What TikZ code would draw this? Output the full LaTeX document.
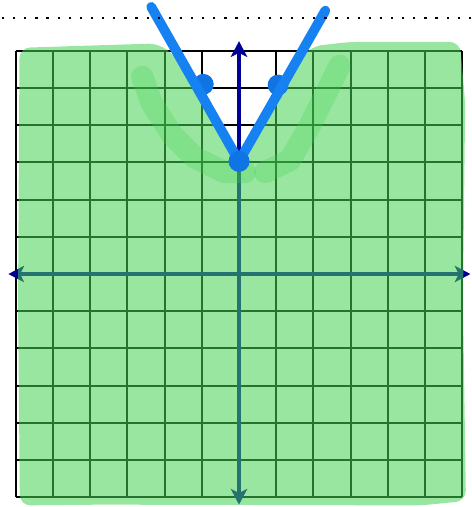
\documentclass[tikz,border=0pt]{standalone}
\usepackage{tikz}
\usetikzlibrary{arrows.meta,positioning}
\definecolor{shgreen}{RGB}{68,210,82}
\definecolor{axnavy}{RGB}{0,0,150}
\definecolor{vblue}{RGB}{22,130,242}
\definecolor{vdotblue}{RGB}{16,116,228}

\begin{document}
\begin{tikzpicture}[>={Stealth[length=12pt,width=12.5pt,inset=3pt]},
  gridline/.style={draw=black,line width=1.5pt},
  axisline/.style={draw=axnavy,line width=2.6pt,<->},
  shade/.style={fill=shgreen,fill opacity=0.55,draw=none,rounded corners=8pt},
  band/.style={draw=shgreen,draw opacity=0.28,line width=17pt,line cap=round,line join=round},
  vline/.style={draw=vblue,line width=7.5pt,line cap=round,line join=round},
  vdot/.style={circle,fill=vdotblue,inner sep=0pt,minimum size=0.56cm},
  dotline/.style={draw=black,line width=1.7pt,dash pattern=on 1.7pt off 6.8pt}]
  \useasboundingbox (-6.425,-6.263) rectangle (6.263,7.366);
  \draw[gridline] (-6,-6) grid (6,6);
  \coordinate (xl) at (-6.2,0);
  \coordinate (xr) at (6.22,0);
  \coordinate (yb) at (0,-6.2);
  \coordinate (yt) at (0,6.26);
  \draw[axisline] (xl) -- (xr);
  \draw[axisline] (yb) -- (yt);
  \fill[shade] (-5.9,6.08) -- (-2.15,6.2) -- (-1.55,5.7) -- (0.02,2.85)
    -- (1.6,5.75) -- (1.95,6.12) -- (2.98,6.24) -- (5.94,6.24) -- (6.08,4.6)
    -- (6.02,-0.7) -- (6.1,-6.1) -- (4.9,-6.22) -- (-3.7,-6.2) -- (-5.89,-6.22)
    -- (-5.94,-0.7) -- cycle;
  \draw[band] (-2.6,5.3) -- (-2.35,4.6) -- (-1.8,3.74) -- (-1.18,3.12)
    -- (-0.38,2.74) -- (0.16,2.74);
  \draw[band] (0.7,2.74) -- (1.37,3.06) -- (1.91,4.0) -- (2.45,5.08) -- (2.7,5.6);
  \node[vdot] (vtx) at (0,3.03) {};
  \node[vdot] (ptl) at (-0.96,5.1) {};
  \node[vdot] (ptr) at (1.05,5.08) {};
  \coordinate (endl) at (-2.36,7.18);
  \coordinate (endr) at (2.32,7.08);
  \draw[vline] (endl) -- (vtx.center) -- (endr);
  \node[vdot] at (vtx) {};
  \coordinate (dotl) at (-6.37,6.88);
  \coordinate (dotr) at (6.263,6.88);
  \draw[dotline] (dotl) -- (dotr);
\end{tikzpicture}
\end{document}
